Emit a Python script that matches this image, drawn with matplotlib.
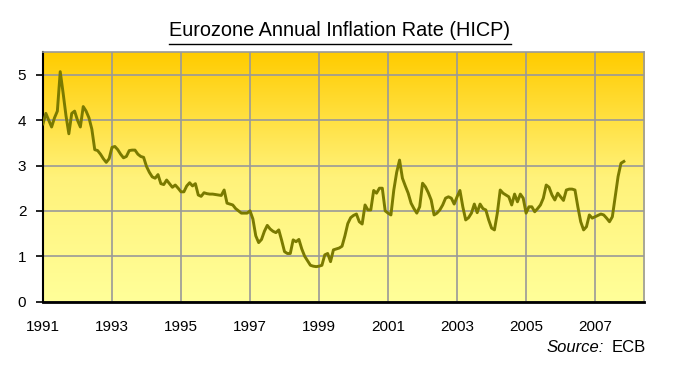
import numpy as np
import matplotlib
matplotlib.use('Agg')
import matplotlib.pyplot as plt
from matplotlib.colors import LinearSegmentedColormap
from matplotlib.lines import Line2D

plt.rcParams['font.family'] = ['Liberation Sans', 'DejaVu Sans']

# monthly annual HICP inflation, Jan 1991 onwards (%)
start_year = 1991
rate = [
    # 1991
    3.92, 4.15, 4.0, 3.85, 4.05, 4.2, 5.07, 4.6, 4.1, 3.7, 4.15, 4.2,
    # 1992
    4.0, 3.85, 4.3, 4.2, 4.05, 3.8, 3.35, 3.33, 3.25, 3.15, 3.07, 3.15,
    # 1993
    3.4, 3.42, 3.35, 3.25, 3.17, 3.2, 3.33, 3.34, 3.34, 3.25, 3.2, 3.18,
    # 1994
    2.98, 2.85, 2.75, 2.72, 2.8, 2.6, 2.58, 2.68, 2.6, 2.52, 2.57, 2.5,
    # 1995
    2.42, 2.42, 2.55, 2.62, 2.55, 2.6, 2.35, 2.32, 2.4, 2.38, 2.37, 2.37,
    # 1996
    2.36, 2.35, 2.34, 2.46, 2.17, 2.15, 2.13, 2.05, 2.0, 1.95, 1.95, 1.95,
    # 1997
    2.0, 1.82, 1.45, 1.3, 1.37, 1.55, 1.68, 1.6, 1.55, 1.52, 1.58, 1.35,
    # 1998
    1.1, 1.06, 1.06, 1.36, 1.32, 1.37, 1.16, 1.0, 0.9, 0.8, 0.78, 0.77,
    # 1999
    0.78, 0.8, 1.03, 1.06, 0.88, 1.14, 1.16, 1.18, 1.22, 1.45, 1.72, 1.85,
    # 2000
    1.9, 1.93, 1.76, 1.71, 2.13, 2.02, 2.02, 2.45, 2.39, 2.5, 2.5, 2.0,
    # 2001
    1.95, 1.91, 2.46, 2.85, 3.12, 2.72, 2.55, 2.39, 2.17, 2.05, 1.95, 2.09,
    # 2002
    2.61, 2.53, 2.4, 2.24, 1.91, 1.95, 2.02, 2.13, 2.28, 2.31, 2.28, 2.15,
    # 2003
    2.31, 2.45, 2.09, 1.8, 1.85, 1.95, 2.15, 1.96, 2.15, 2.05, 2.02, 1.8,
    # 2004
    1.62, 1.58, 1.95, 2.46, 2.39, 2.35, 2.31, 2.13, 2.37, 2.2, 2.37, 2.28,
    # 2005
    1.95, 2.09, 2.09, 1.98, 2.05, 2.13, 2.28, 2.57, 2.52, 2.35, 2.24, 2.39,
    # 2006
    2.31, 2.23, 2.46, 2.48, 2.48, 2.46, 2.09, 1.76, 1.58, 1.65, 1.91, 1.84,
    # 2007
    1.87, 1.9, 1.93, 1.91, 1.84, 1.76, 1.87, 2.31, 2.76, 3.05, 3.09,
]
year_ticks = [1991, 1993, 1995, 1997, 1999, 2001, 2003, 2005, 2007]
y_ticks = [0, 1, 2, 3, 4, 5]

t = start_year + np.arange(len(rate)) / 12.0

fig = plt.figure(figsize=(6.8, 3.7), dpi=100)
ax = fig.add_axes([0.0632, 0.185, 0.884, 0.674])

x0, x1 = 1991, 2008.42
y0, y1 = 0, 5.5

# background gradient
cmap = LinearSegmentedColormap.from_list('bg', ['#ffff99', '#fff27a', '#ffcc00'])
grad = np.linspace(0, 1, 256).reshape(-1, 1)
ax.imshow(grad, cmap=cmap, aspect='auto', extent=[x0, x1, y0, y1],
          origin='lower', zorder=0)

ax.plot(t, rate, color='#7a7a00', linewidth=2.1, zorder=3)

ax.set_xlim(x0, x1)
ax.set_ylim(y0, y1)
ax.set_xticks(year_ticks)
ax.set_xticklabels([str(y) for y in year_ticks])
ax.set_yticks(y_ticks)
ax.grid(True, color='#999999', linewidth=1.2)
for gl in ax.get_xgridlines() + ax.get_ygridlines():
    gl.set_zorder(1)

ax.tick_params(axis='x', length=0, pad=13, labelsize=11, colors='black')
ax.tick_params(axis='y', length=5, width=1.2, pad=7, labelsize=11, direction='out')

ax.spines['bottom'].set_linewidth(2)
ax.spines['bottom'].set_color('black')
ax.spines['left'].set_linewidth(1.5)
ax.spines['left'].set_color('black')
ax.spines['top'].set_color('#999999')
ax.spines['right'].set_color('#999999')
ax.spines['top'].set_linewidth(1.2)
ax.spines['right'].set_linewidth(1.2)

title = fig.text(0.5, 1 - 31 / 370, 'Eurozone Annual Inflation Rate (HICP)',
                 ha='center', va='center', fontsize=14.3)

fig.text(604 / 680, 1 - 348 / 370, 'Source:', ha='right', va='center',
         fontsize=12, style='italic')
fig.text(612 / 680, 1 - 348 / 370, 'ECB', ha='left', va='center', fontsize=12)

# underline the title
fig.canvas.draw()
bb = title.get_window_extent().transformed(fig.transFigure.inverted())
fig.add_artist(Line2D([bb.x0, bb.x1], [1 - 44 / 370, 1 - 44 / 370],
                      transform=fig.transFigure, color='black', linewidth=1))

fig.savefig('out.png', dpi=100, facecolor='white')
